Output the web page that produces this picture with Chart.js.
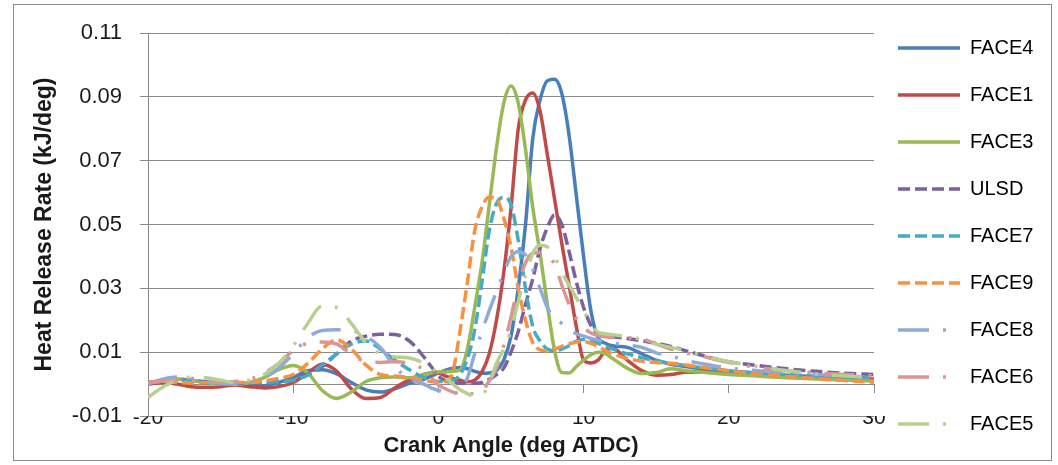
<!DOCTYPE html>
<html><head><meta charset="utf-8">
<script src="https://cdn.jsdelivr.net/npm/chart.js@4.4.0/dist/chart.umd.min.js"></script>
<style>
html,body{margin:0;padding:0;background:#fff;}
#wrap{position:relative;width:1058px;height:465px;overflow:hidden;}
#frame{position:absolute;left:13px;top:4px;width:1037px;height:455px;border:1px solid #8c8c8c;pointer-events:none;}
canvas{position:absolute;left:0;top:0;}
</style></head>
<body><div id="wrap"><canvas id="c" width="1058" height="465"></canvas><div id="frame"></div></div>
<script>
// Crank angle (deg ATDC)
const crankAngle = [-20,-19,-18,-17,-16,-15,-14,-13,-12,-11,-10,-9,-8,-7,-6,-5,-4,-3,-2,-1,
  -0.5,0,0.5,1,1.5,2,2.5,3,3.5,4,4.5,5,5.5,6,6.5,7,7.5,8,8.5,9,9.5,10,10.5,11,11.5,12,
  13,14,15,16,17,18,19,20,22,24,26,28,30];

// Heat release rate (kJ/deg)
const face4 = [0.0005,0.001,0.0015,0.0012,0.0005,0.0003,0.0003,0.0,-0.0005,0.0005,0.002,0.0042,0.0045,0.0032,0.0005,-0.0018,-0.0025,-0.0015,0.0002,0.0015,
  0.0025,0.0035,0.0044,0.005,0.0052,0.0048,0.004,0.0034,0.0035,0.0042,0.0075,0.015,0.030,0.050,0.077,0.089,0.095,0.0955,0.091,0.078,0.059,0.040,0.023,0.0145,0.0128,0.012,
  0.0115,0.0095,0.0075,0.0062,0.0055,0.0048,0.0043,0.004,0.0034,0.0028,0.0023,0.0019,0.0016];
const face1 = [0.0,0.0005,0.0,-0.0008,-0.001,-0.0008,-0.0003,-0.0008,-0.0012,-0.0008,0.0005,0.0035,0.0062,0.004,-0.0015,-0.0045,-0.0042,-0.0012,0.0013,0.003,
  0.0035,0.0035,0.0025,0.0018,0.0012,0.0007,0.0012,0.0038,0.0095,0.020,0.035,0.055,0.080,0.089,0.0912,0.0855,0.072,0.058,0.044,0.031,0.018,0.0075,0.0066,0.0075,0.0105,0.0112,
  0.0075,0.0042,0.0028,0.003,0.0037,0.0038,0.0036,0.0034,0.0028,0.0023,0.0019,0.0016,0.0014];
const face3 = [0.0005,0.001,0.0015,0.0012,0.0005,0.0,0.0,0.0005,0.002,0.0045,0.0058,0.0035,-0.002,-0.0045,-0.0025,0.0008,0.002,0.0022,0.002,0.003,
  0.0035,0.0038,0.0038,0.004,0.0045,0.011,0.024,0.038,0.056,0.074,0.088,0.0934,0.088,0.0735,0.0553,0.041,0.025,0.0105,0.0036,0.0035,0.0055,0.0075,0.0092,0.01,0.0095,0.008,
  0.005,0.0033,0.0036,0.0048,0.0042,0.0038,0.0034,0.003,0.0025,0.002,0.0016,0.0013,0.001];
const ulsd = [0.0005,0.001,0.0015,0.0012,0.0008,0.0005,0.0003,0.0003,0.0005,0.001,0.0015,0.003,0.0055,0.0095,0.0135,0.015,0.0156,0.0155,0.0135,0.0085,
  0.0055,0.0025,0.001,0.0005,0.0003,0.0003,0.0003,0.0005,0.0015,0.003,0.005,0.010,0.0165,0.025,0.033,0.0425,0.049,0.053,0.050,0.0415,0.032,0.024,0.0185,0.016,0.015,0.0148,
  0.0143,0.0136,0.0128,0.0118,0.0105,0.0092,0.008,0.007,0.0058,0.0048,0.004,0.0034,0.003];
const face7 = [0.0005,0.001,0.0012,0.001,0.0005,0.0003,0.0003,0.0005,0.0005,0.0008,0.0012,0.0028,0.006,0.0095,0.0125,0.0135,0.011,0.0075,0.0045,0.002,
  0.0012,0.0008,0.0008,0.0012,0.003,0.008,0.017,0.032,0.048,0.0565,0.0585,0.0562,0.045,0.030,0.018,0.0135,0.011,0.0105,0.011,0.012,0.0135,0.014,0.0138,0.0128,0.0118,0.011,
  0.0095,0.0083,0.0073,0.0065,0.0058,0.0052,0.0047,0.0042,0.0035,0.003,0.0026,0.0022,0.002];
const face9 = [0.0005,0.0008,0.0005,0.0003,0.0005,0.0008,0.0005,0.0005,0.001,0.0018,0.003,0.0065,0.011,0.0138,0.011,0.006,0.003,0.0025,0.002,0.0012,
  0.0008,0.0006,0.0008,0.004,0.017,0.032,0.048,0.0555,0.0585,0.058,0.052,0.043,0.030,0.020,0.013,0.0107,0.0104,0.011,0.0118,0.0126,0.0132,0.0133,0.0128,0.0118,0.0105,0.0095,
  0.008,0.0072,0.0068,0.0065,0.006,0.0054,0.0048,0.0042,0.0032,0.0024,0.0017,0.0011,0.0006];
const face8 = [0.0,0.0015,0.0022,0.0018,0.001,0.0003,0.0,0.0003,0.002,0.005,0.0095,0.0145,0.0168,0.017,0.0168,0.015,0.0115,0.0055,0.0015,0.0,
  -0.0012,-0.002,-0.0025,-0.0028,-0.0022,0.002,0.0095,0.0165,0.023,0.029,0.035,0.040,0.0415,0.0405,0.036,0.030,0.024,0.0205,0.019,0.0172,0.0158,0.015,0.0143,0.0138,0.0132,0.0128,
  0.0122,0.0115,0.0098,0.0088,0.0075,0.0065,0.0057,0.005,0.0042,0.0036,0.003,0.0026,0.0022];
const face6 = [0.0005,0.001,0.0012,0.001,0.0008,0.0005,0.0008,0.0015,0.0035,0.0065,0.0105,0.0128,0.0132,0.0125,0.0095,0.007,0.0068,0.007,0.0065,0.0045,
  0.002,-0.0003,-0.0015,-0.0025,-0.003,-0.003,-0.003,-0.0022,0.001,0.005,0.012,0.021,0.031,0.038,0.041,0.0412,0.040,0.0375,0.031,0.025,0.0205,0.0178,0.016,0.0152,0.0148,0.0146,
  0.0145,0.0142,0.0125,0.011,0.0098,0.009,0.0078,0.0068,0.0052,0.0042,0.0035,0.003,0.0026];
const face5 = [-0.0042,-0.001,0.0012,0.0022,0.002,0.0012,0.0005,0.0012,0.003,0.0065,0.012,0.019,0.0245,0.024,0.019,0.013,0.0095,0.0085,0.0082,0.0065,
  0.005,0.0035,0.002,0.0,-0.0018,-0.003,-0.0038,-0.0035,0.0005,0.0065,0.011,0.017,0.026,0.034,0.041,0.0435,0.043,0.040,0.035,0.031,0.027,0.023,0.019,0.0162,0.0158,0.0155,
  0.0148,0.014,0.0125,0.0115,0.0105,0.0092,0.008,0.007,0.0055,0.0042,0.0032,0.0025,0.002];

const seriesNames = ['FACE4','FACE1','FACE3','ULSD','FACE7','FACE9','FACE8','FACE6','FACE5'];
const seriesValues = [face4, face1, face3, ulsd, face7, face9, face8, face6, face5];
const seriesColors = ['#4A7EBB','#BE4B48','#98B954','#7D60A0','#46AAC5','#F69240','#8EAADB','#D99694','#B7D08E'];
const xTickValues = [-20, -10, 0, 10, 20, 30];
const yTickValues = [-0.01, 0.01, 0.03, 0.05, 0.07, 0.09, 0.11];

const FONT = '"Liberation Sans", Arial, sans-serif';
const GRID = '#8a8a8a';
const DASH = [12, 5];
const LDD = [30, 14, 3, 14];
const seriesDash = [[], [], [], DASH, DASH, DASH, LDD, LDD, LDD];
const legendDash = [[], [], [], [12, 5], [12, 5], [12, 5], [31, 14, 3, 14], [31, 14, 3, 14], [31, 14, 3, 14]];

const legendPlace = {
  id: 'legendPlace',
  afterLayout(chart) {
    const lg = chart.legend;
    if (!lg) return;
    lg.left = 871; lg.right = 1058; lg.top = 11; lg.bottom = 465;
    lg.width = lg.right - lg.left; lg.height = lg.bottom - lg.top;
  }
};

new Chart(document.getElementById('c'), {
  type: 'line',
  data: {
    datasets: seriesNames.map((name, i) => ({
      label: name,
      data: crankAngle.map((x, j) => ({x: x, y: seriesValues[i][j]})),
      borderColor: seriesColors[i],
      backgroundColor: seriesColors[i],
      borderWidth: 3.5,
      borderDash: seriesDash[i],
      borderCapStyle: 'butt',
      pointRadius: 0,
      fill: false,
      cubicInterpolationMode: 'monotone',
      order: seriesNames.length - i
    }))
  },
  options: {
    responsive: false,
    animation: false,
    devicePixelRatio: 1,
    events: [],
    layout: {padding: {left: 14, top: 0, right: 183, bottom: 0}},
    plugins: {
      tooltip: {enabled: false},
      legend: {
        display: true,
        position: 'right',
        align: 'start',
        maxWidth: 1,
        labels: {
          usePointStyle: true,
          pointStyle: 'line',
          pointStyleWidth: 62,
          padding: 27,
          color: '#000',
          font: {family: FONT, size: 20},
          generateLabels: (chart) => chart.data.datasets.map((ds, i) => ({
            text: ds.label,
            datasetIndex: i,
            strokeStyle: ds.borderColor,
            fillStyle: ds.borderColor,
            fontColor: '#000',
            lineWidth: 3.5,
            lineCap: 'butt',
            lineDash: legendDash[i],
            lineDashOffset: 0,
            pointStyle: 'line',
            hidden: false
          }))
        }
      }
    },
    scales: {
      x: {
        type: 'linear', position: 'bottom', min: -20, max: 30,
        afterBuildTicks: (s) => { s.ticks = xTickValues.map(v => ({value: v})); },
        ticks: {padding: -10, color: '#1a1a1a', font: {family: FONT, size: 21}, maxRotation: 0},
        grid: {display: false, drawTicks: false},
        border: {display: false},
        title: {display: true, text: 'Crank Angle (deg ATDC)', color: '#1a1a1a',
          font: {family: FONT, size: 22, weight: 'bold'}, padding: {top: 0, bottom: 6}},
        afterFit: (s) => { s.height = 49; }
      },
      x0: {
        type: 'linear', axis: 'x', position: {y: 0}, min: -20, max: 30,
        afterBuildTicks: (s) => { s.ticks = xTickValues.map(v => ({value: v})); },
        ticks: {display: false},
        grid: {drawOnChartArea: false, drawTicks: true, tickLength: 8, color: GRID, lineWidth: 1},
        border: {display: true, color: GRID, width: 1},
        afterFit: (s) => { s.height = 0; }
      },
      y: {
        type: 'linear', position: 'left', min: -0.01, max: 0.11,
        afterBuildTicks: (s) => { s.ticks = yTickValues.map(v => ({value: v})); },
        ticks: {padding: 18, color: '#1a1a1a', font: {family: FONT, size: 22},
          callback: (v) => Number(v).toFixed(2)},
        grid: {color: GRID, lineWidth: 1, drawTicks: true, tickLength: 8},
        border: {display: true, color: GRID, width: 1},
        title: {display: true, text: 'Heat Release Rate (kJ/deg)', color: '#1a1a1a',
          font: {family: FONT, size: 23, weight: 'bold'}, padding: {top: 17, bottom: 0}},
        afterFit: (s) => { s.width = 134; s.paddingTop = 33; }
      }
    }
  },
  plugins: [legendPlace]
});
</script>
</body></html>
